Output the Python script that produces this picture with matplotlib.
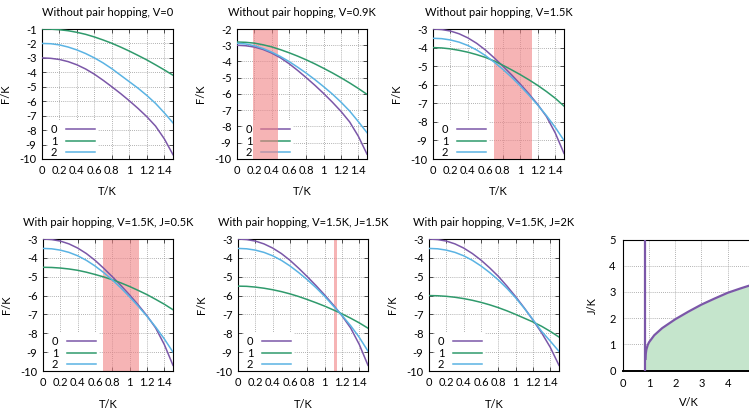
import matplotlib
matplotlib.use("Agg")
import matplotlib.pyplot as plt

plt.rcParams["font.family"] = ["Lato", "DejaVu Sans"]
plt.rcParams["font.size"] = 8
plt.rcParams["axes.unicode_minus"] = False

W, H = 749, 409
PURPLE, GREEN, BLUE = "#7b57a8", "#2f9a6c", "#5ab3e3"
BAND = "#f08285"   # drawn at alpha 0.6 -> light pink
FILL = "#c5e5cc"

T = [0.0, 0.1, 0.2, 0.3, 0.4, 0.5, 0.6, 0.7, 0.8, 0.9, 1.0, 1.1, 1.2, 1.3, 1.4, 1.5]

# V=0
a0 = [-3.00, -3.03, -3.11, -3.26, -3.48, -3.77, -4.13, -4.55, -5.00, -5.47, -5.97, -6.50, -7.07, -7.72, -8.60, -9.70]
a1 = [-1.00, -1.01, -1.05, -1.12, -1.23, -1.37, -1.55, -1.76, -1.99, -2.25, -2.53, -2.83, -3.14, -3.48, -3.83, -4.20]
a2 = [-2.00, -2.02, -2.10, -2.25, -2.45, -2.70, -3.00, -3.35, -3.75, -4.20, -4.65, -5.10, -5.60, -6.15, -6.80, -7.50]
# V=0.9K
b0 = [-3.00, -3.03, -3.11, -3.26, -3.48, -3.77, -4.13, -4.55, -5.00, -5.47, -5.97, -6.50, -7.07, -7.72, -8.60, -9.70]
b1 = [-2.80, -2.82, -2.87, -2.97, -3.10, -3.27, -3.46, -3.67, -3.90, -4.15, -4.42, -4.70, -5.00, -5.32, -5.66, -6.02]
b2 = [-2.88, -2.92, -3.03, -3.20, -3.42, -3.69, -4.00, -4.35, -4.72, -5.12, -5.55, -6.00, -6.50, -7.05, -7.70, -8.38]
# V=1.5K
c0 = [-3.00, -3.03, -3.11, -3.26, -3.48, -3.77, -4.13, -4.55, -5.00, -5.47, -5.97, -6.50, -7.07, -7.72, -8.60, -9.70]
c1 = [-4.00, -4.02, -4.07, -4.15, -4.25, -4.38, -4.53, -4.72, -4.95, -5.20, -5.46, -5.74, -6.04, -6.37, -6.73, -7.15]
c2 = [-3.50, -3.52, -3.59, -3.71, -3.89, -4.13, -4.43, -4.78, -5.17, -5.60, -6.07, -6.57, -7.10, -7.67, -8.30, -9.00]
# V=1.5K, J=0.5K
d0 = [-3.00, -3.03, -3.11, -3.26, -3.48, -3.77, -4.13, -4.55, -5.00, -5.47, -5.97, -6.50, -7.07, -7.72, -8.60, -9.70]
d1 = [-4.50, -4.51, -4.54, -4.59, -4.66, -4.76, -4.88, -5.01, -5.16, -5.33, -5.52, -5.73, -5.95, -6.20, -6.46, -6.75]
d2 = [-3.50, -3.52, -3.59, -3.71, -3.89, -4.13, -4.43, -4.78, -5.17, -5.60, -6.07, -6.57, -7.10, -7.67, -8.30, -9.00]
# V=1.5K, J=1.5K
e0 = [-3.00, -3.03, -3.11, -3.26, -3.48, -3.77, -4.13, -4.55, -5.00, -5.47, -5.97, -6.50, -7.07, -7.72, -8.60, -9.70]
e1 = [-5.50, -5.51, -5.55, -5.61, -5.69, -5.79, -5.91, -6.05, -6.21, -6.38, -6.56, -6.76, -6.97, -7.20, -7.45, -7.73]
e2 = [-3.50, -3.52, -3.59, -3.71, -3.89, -4.13, -4.43, -4.78, -5.16, -5.58, -6.04, -6.55, -7.05, -7.60, -8.22, -8.95]
# V=1.5K, J=2K
f0 = [-3.00, -3.03, -3.11, -3.26, -3.48, -3.77, -4.12, -4.53, -4.98, -5.50, -6.06, -6.66, -7.30, -7.98, -8.75, -9.70]
f1 = [-6.00, -6.01, -6.04, -6.09, -6.16, -6.25, -6.36, -6.49, -6.64, -6.81, -7.00, -7.20, -7.40, -7.63, -7.90, -8.20]
f2 = [-3.50, -3.52, -3.59, -3.71, -3.89, -4.13, -4.43, -4.78, -5.17, -5.62, -6.12, -6.68, -7.28, -7.90, -8.42, -8.96]

TITLES = ["Without pair hopping, V=0", "Without pair hopping, V=0.9K",
          "Without pair hopping, V=1.5K", "With pair hopping, V=1.5K, J=0.5K",
          "With pair hopping, V=1.5K, J=1.5K", "With pair hopping, V=1.5K, J=2K"]
YTOP = [-1, -2, -3, -3, -3, -3]
BANDS = [None, (0.19, 0.47), (0.70, 1.135), (0.69, 1.105), (1.11, 1.14), None]
XTICKS = [0, 0.2, 0.4, 0.6, 0.8, 1, 1.2, 1.4]
XTICKLABELS = ["0", "0.2", "0.4", "0.6", "0.8", "1", "1.2", "1.4"]

# phase diagram
Vc = 0.86
Vb = [0.87, 0.88, 0.90, 0.95, 1.0, 1.2, 1.5, 2.0, 2.5, 3.0, 3.5, 4.0, 4.5, 5.0]
Jb = [0.45, 0.65, 0.80, 0.97, 1.08, 1.35, 1.62, 1.96, 2.25, 2.52, 2.75, 2.97, 3.14, 3.30]


def box(l, t, r, b):
    return [l / W, (H - b) / H, (r - l) / W, (b - t) / H]


def style(ax):
    ax.tick_params(direction="in", length=3, width=0.6, top=True, right=True,
                   pad=4, labelsize=8, color="#333333")
    for s in ax.spines.values():
        s.set_linewidth(0.8)
    ax.grid(True, color="#999999", linestyle=(0, (1, 1.5)), linewidth=0.6)
    ax.set_axisbelow(True)


pos = [(42, 29, 173, 159), (237, 29, 367, 159), (433, 29, 564, 159),
       (43, 239, 173, 371), (238, 239, 368, 371), (429, 239, 559, 371)]
data = [(a0, a1, a2), (b0, b1, b2), (c0, c1, c2), (d0, d1, d2), (e0, e1, e2), (f0, f1, f2)]

fig = plt.figure(figsize=(W / 100, H / 100), dpi=100)

for i in range(6):
    ax = fig.add_axes(box(*pos[i]))
    style(ax)
    if BANDS[i]:
        ax.axvspan(BANDS[i][0], BANDS[i][1], color=BAND, alpha=0.6, lw=0, zorder=1)
    y0, y1, y2 = data[i]
    ax.plot(T, y0, color=PURPLE, lw=1.1, label="0", zorder=3)
    ax.plot(T, y1, color=GREEN, lw=1.1, label="1", zorder=3)
    ax.plot(T, y2, color=BLUE, lw=1.1, label="2", zorder=3)
    ax.set_xlim(0, 1.5)
    ax.set_ylim(-10, YTOP[i])
    ax.set_xticks(XTICKS)
    ax.set_xticklabels(XTICKLABELS)
    ax.set_yticks(range(-10, YTOP[i] + 1))
    ax.set_title(TITLES[i], fontsize=8, pad=9)
    ax.set_xlabel("T/K", fontsize=8)
    ax.set_ylabel("F/K", fontsize=8)
    ax.xaxis.set_label_coords(0.5, -0.21)
    ax.yaxis.set_label_coords(-0.24, 0.5)
    leg = ax.legend(loc="lower left", bbox_to_anchor=(0.045, -0.015),
                    markerfirst=False, fontsize=8,
                    handlelength=2.6, labelspacing=0.05, borderpad=0.25,
                    handletextpad=0.8, borderaxespad=0, frameon=True,
                    framealpha=1, edgecolor="white", fancybox=False)
    leg.get_frame().set_linewidth(0)
    leg.set_zorder(0.7)

ax = fig.add_axes(box(622.7, 239.5, 754, 370.7))
style(ax)
ax.tick_params(length=0, pad=5)
ax.fill_between(Vb, 0, Jb, color=FILL, lw=0, zorder=1)
ax.plot(Vb, Jb, color=PURPLE, lw=1.6, zorder=3)
ax.plot([Vc, Vc], [0, 5], color=PURPLE, lw=1.6, zorder=3)
ax.set_xlim(0, 5)
ax.set_ylim(0, 5)
ax.set_xticks(range(0, 5))
ax.set_yticks(range(0, 6))
ax.spines["bottom"].set_linewidth(1.4)
ax.set_xlabel("V/K", fontsize=8)
ax.set_ylabel("J/K", fontsize=8)
ax.xaxis.set_label_coords(0.5, -0.2)
ax.yaxis.set_label_coords(-0.19, 0.5)

fig.savefig("out.png", dpi=100)
